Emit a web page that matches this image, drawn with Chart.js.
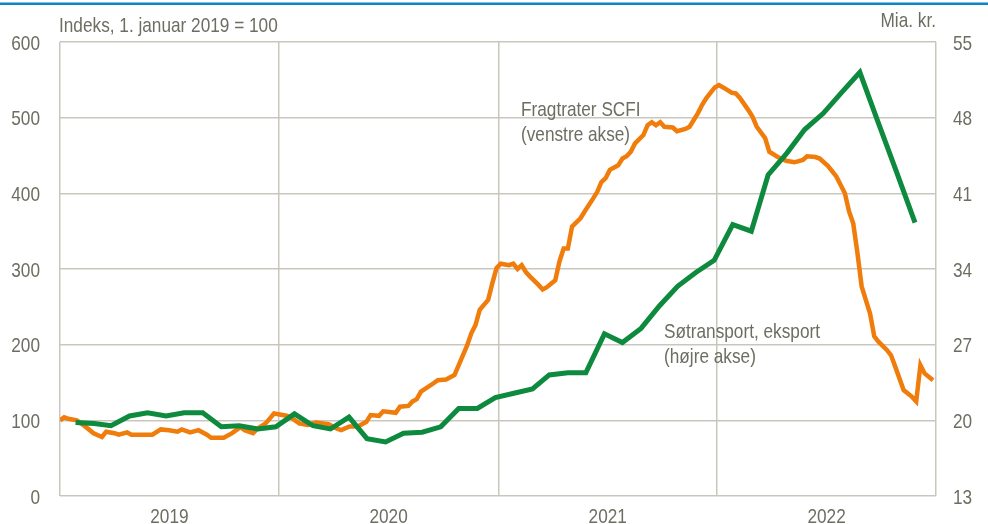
<!DOCTYPE html>
<html>
<head>
<meta charset="utf-8">
<script src="https://cdn.jsdelivr.net/npm/chart.js@4/dist/chart.umd.min.js"></script>
<style>
	html, body { margin: 0; padding: 0; background: #fff; }
	#wrap { width: 988px; height: 524px; position: relative; }
</style>
</head>
<body>
<div id="wrap"><canvas id="freight" width="988" height="524"></canvas></div>
<script>

// Søtransport, eksport (mia. kr., højre akse) - månedlig, jan 2019 ->
var exportValues = [
	19.8, 19.7, 19.5, 20.4, 20.7, 20.4, 20.7, 20.7, 19.4, 19.5, 19.2, 19.4,
	20.6, 19.5, 19.2, 20.3, 18.3, 18.0, 18.8, 18.9, 19.4, 21.1, 21.1, 22.1,
	22.5, 22.9, 24.2, 24.4, 24.4, 28.0, 27.2, 28.5, 30.6, 32.4, 33.7, 34.8,
	38.1, 37.5, 42.7, 44.7, 46.9, 48.4, 50.3, 52.2, 47.5, 43.0, 38.3
];

// Fragtrater SCFI (indeks, venstre akse) - uge nr. efter 1. januar 2019
var scfiWeeks = [
	0, 1, 2, 4, 6, 8, 10, 11, 13, 14, 16, 17, 22, 24, 26, 28, 29, 31, 33, 35,
	36, 39, 41, 43, 44, 46, 47, 49, 51, 54, 55, 57, 59, 61, 64, 66, 67, 69, 71, 73,
	74, 76, 77, 80, 81, 83, 84, 85, 86, 89, 90, 92, 94, 95, 97, 98, 99, 100, 102, 103,
	104, 105, 107, 108, 109, 110, 111, 112, 114, 115, 116, 118, 119, 120, 121, 122, 124, 125, 127, 128,
	129, 130, 131, 133, 134, 135, 136, 137, 139, 140, 141, 142, 143, 144, 146, 147, 149, 150, 152, 153,
	154, 156, 157, 158, 160, 161, 162, 164, 165, 166, 168, 169, 171, 173, 175, 177, 178, 180, 181, 183,
	185, 187, 188, 189, 190, 191, 193, 194, 195, 197, 198, 199, 201, 203, 204, 205, 206, 208
];
var scfiValues = [
	100, 104, 102, 100, 92, 83, 78, 85, 83, 81, 84, 81, 81, 88, 87, 85, 88, 84, 87, 81,
	77, 77, 83, 91, 87, 83, 89, 96, 109, 106, 104, 96, 94, 97, 95, 89, 87, 92, 92, 98,
	107, 106, 112, 110, 118, 119, 125, 128, 138, 149, 153, 154, 160, 173, 199, 215, 226, 246, 259, 281,
	301, 307, 305, 307, 300, 305, 296, 290, 279, 273, 276, 285, 310, 327, 327, 356, 367, 376, 393, 402,
	415, 420, 431, 437, 446, 449, 455, 466, 477, 490, 494, 490, 494, 488, 487, 482, 485, 488, 506, 517,
	526, 540, 543, 540, 533, 532, 526, 510, 501, 488, 473, 455, 448, 443, 441, 444, 449, 448, 446, 436,
	422, 400, 376, 360, 321, 277, 241, 211, 204, 193, 186, 171, 140, 131, 125, 173, 162, 153
];

var years = [2019, 2020, 2021, 2022];
var leftTicks = [0, 100, 200, 300, 400, 500, 600];
var rightTicks = [13, 20, 27, 34, 41, 48, 55];

var DAY = 86400000;
var t0 = Date.UTC(2019, 0, 1);
function dayOf(y, m, d) { return (Date.UTC(y, m, d) - t0) / DAY; }

var exportData = exportValues.map(function(v, k) {
	return { x: dayOf(2019, k, 27), y: v };
});
var scfiData = scfiValues.map(function(v, i) {
	return { x: scfiWeeks[i] * 7, y: v };
});

var yearStarts = years.concat([years[years.length - 1] + 1]).map(function(y) { return dayOf(y, 0, 1); });
var yearMids = years.map(function(y) { return (dayOf(y, 0, 1) + dayOf(y + 1, 0, 1)) / 2; });

// Arial Narrow look: Liberation Sans squeezed horizontally
var FONT = "21px 'Liberation Sans', Arial, sans-serif";
var SQUEEZE = 0.82;
var TEXT = "#6e6d62";
var GRID = "#c9c7bd";

function narrowText(c, str, x, y, align) {
	c.save();
	c.translate(x, y);
	c.scale(SQUEEZE, 1);
	c.textAlign = align;
	c.fillText(str, 0, 0);
	c.restore();
}

var decorations = {
	id : "decorations",
	afterDraw : function(chart) {
		var c = chart.ctx;
		var area = chart.chartArea;
		var sx = chart.scales.x, yl = chart.scales.yLeft, yr = chart.scales.yRight;
		c.save();
		c.fillStyle = "#0b86c9";
		c.fillRect(0, 2.5, chart.width, 2.5);

		c.fillStyle = TEXT;
		c.font = FONT;
		c.textBaseline = "alphabetic";

		leftTicks.forEach(function(v) {
			narrowText(c, String(v), area.left - 20, yl.getPixelForValue(v) + 7.5, "right");
		});
		rightTicks.forEach(function(v) {
			narrowText(c, String(v), area.right + 17, yr.getPixelForValue(v) + 7.5, "left");
		});
		years.forEach(function(y, i) {
			narrowText(c, String(y), sx.getPixelForValue(yearMids[i]), area.bottom + 26.5, "center");
		});

		narrowText(c, "Indeks, 1. januar 2019 = 100", area.left - 1, 31.5, "left");
		narrowText(c, "Mia. kr.", area.right, 27, "right");

		narrowText(c, "Fragtrater SCFI", 521, 116, "left");
		narrowText(c, "(venstre akse)", 521, 141, "left");
		narrowText(c, "Søtransport, eksport", 664, 338, "left");
		narrowText(c, "(højre akse)", 664, 363, "left");
		c.restore();
	}
};

var ctx = document.getElementById("freight");

var chart = new Chart(ctx, {
	type : "line",
	data : {
		datasets : [
			{
				label : "Søtransport, eksport",
				data : exportData,
				yAxisID : "yRight",
				borderColor : "#0d8a3e",
				borderWidth : 5,
				pointRadius : 0,
				tension : 0,
				fill : false,
				order : 0
			},
			{
				label : "Fragtrater SCFI",
				data : scfiData,
				yAxisID : "yLeft",
				borderColor : "#f07c0b",
				borderWidth : 4.5,
				pointRadius : 0,
				tension : 0,
				fill : false,
				order : 1
			}
		]
	},
	plugins : [decorations],
	options : {
		responsive : false,
		animation : false,
		devicePixelRatio : 1,
		layout : { padding : { top : 42, left : 0, right : 0, bottom : 0 } },
		plugins : {
			legend : { display : false },
			tooltip : { enabled : false }
		},
		scales : {
			x : {
				type : "linear",
				min : yearStarts[0],
				max : yearStarts[yearStarts.length - 1],
				afterBuildTicks : function(scale) {
					scale.ticks = yearStarts.map(function(v) { return { value : v }; });
				},
				afterFit : function(scale) { scale.height = 28; },
				grid : { drawTicks : false, lineWidth : 1.5, color : GRID },
				border : { display : false },
				ticks : { display : false, autoSkip : false }
			},
			yLeft : {
				position : "left",
				min : leftTicks[0],
				max : leftTicks[leftTicks.length - 1],
				afterFit : function(scale) { scale.width = 60; },
				afterBuildTicks : function(scale) {
					scale.ticks = leftTicks.map(function(v) { return { value : v }; });
				},
				grid : { drawTicks : false, lineWidth : 1.5, color : GRID },
				border : { display : false },
				ticks : { display : false, autoSkip : false }
			},
			yRight : {
				position : "right",
				min : rightTicks[0],
				max : rightTicks[rightTicks.length - 1],
				afterFit : function(scale) { scale.width = 52; },
				afterBuildTicks : function(scale) {
					scale.ticks = rightTicks.map(function(v) { return { value : v }; });
				},
				grid : { display : false },
				border : { display : false },
				ticks : { display : false, autoSkip : false }
			}
		}
	}
});

</script>
</body>
</html>
